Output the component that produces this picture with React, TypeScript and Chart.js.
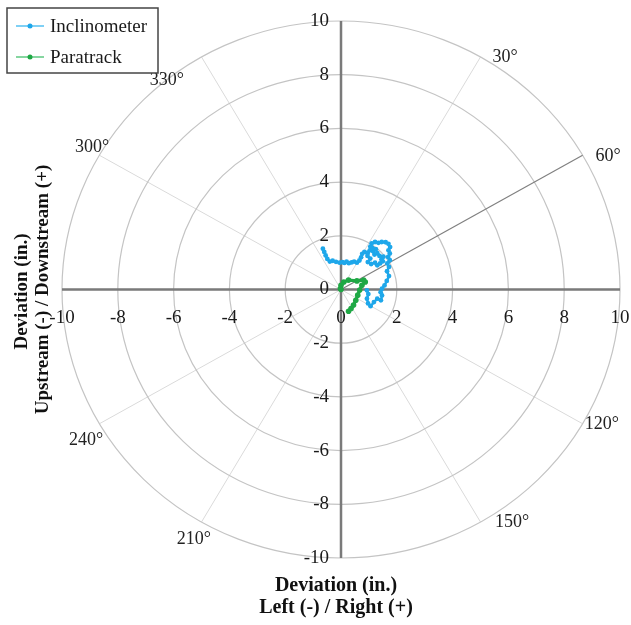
import React, { useEffect, useRef } from "react";
import { Chart, registerables } from "chart.js";

Chart.register(...registerables);

// ---- data ----
const inclinometerX = [-0.65, -0.6, -0.55, -0.49, -0.4, -0.3, -0.18, -0.05, 0.05, 0.12, 0.2, 0.28, 0.38, 0.47, 0.57, 0.66, 0.72, 0.76, 0.84, 0.95, 1.03, 0.95, 1.05, 0.96, 1.08, 1.22, 1.3, 1.4, 1.5, 1.45, 1.52, 1.38, 1.3, 1.2, 1.15, 1.25, 1.12, 1.05, 1.1, 1.22, 1.34, 1.46, 1.6, 1.7, 1.76, 1.7, 1.75, 1.69, 1.75, 1.66, 1.72, 1.65, 1.72, 1.64, 1.56, 1.47, 1.42, 1.47, 1.43, 1.3, 1.18, 1.06, 0.97, 0.93, 0.98, 0.93];
const inclinometerY = [1.52, 1.4, 1.27, 1.14, 1.04, 1.07, 1.03, 1.0, 1.02, 0.99, 1.04, 0.98, 1.01, 1.04, 1.0, 1.08, 1.2, 1.33, 1.4, 1.36, 1.46, 1.25, 1.15, 1.02, 0.95, 1.0, 0.9, 0.97, 1.05, 1.12, 1.22, 1.25, 1.35, 1.3, 1.42, 1.5, 1.55, 1.6, 1.72, 1.77, 1.74, 1.77, 1.76, 1.7, 1.58, 1.46, 1.34, 1.21, 1.09, 0.97, 0.84, 0.68, 0.5, 0.32, 0.15, 0.03, -0.1, -0.22, -0.4, -0.34, -0.47, -0.62, -0.52, -0.34, -0.17, -0.03];
const paratrackX = [0.27, 0.36, 0.45, 0.53, 0.6, 0.67, 0.75, 0.87, 0.81, 0.57, 0.27, 0.1, 0.0, -0.02, 0.0];
const paratrackY = [-0.81, -0.71, -0.58, -0.4, -0.21, -0.02, 0.16, 0.28, 0.35, 0.32, 0.35, 0.28, 0.16, 0.04, 0.0];

const seriesNames = ["Inclinometer", "Paratrack"];
const xTickValues = [-10, -8, -6, -4, -2, 0, 2, 4, 6, 8, 10];
const yTickValues = [-10, -8, -6, -4, -2, 0, 2, 4, 6, 8, 10];
const circleRadii = [2, 4, 6, 8, 10];
const spokeAngles = [0, 30, 60, 90, 120, 150, 180, 210, 240, 270, 300, 330];
const angleLabels = ["30°", "60°", "120°", "150°", "210°", "240°", "300°", "330°"];
const highlightAngle = 60;

// label placement (layout only), in data units
const angleLabelPos: Record<string, [number, number]> = {
  "30°": [5.88, 8.66],
  "60°": [9.57, 4.98],
  "120°": [9.35, -5.02],
  "150°": [6.13, -8.66],
  "210°": [-5.27, -9.29],
  "240°": [-9.14, -5.61],
  "300°": [-8.92, 5.28],
  "330°": [-6.24, 7.78],
};

const BLUE = "#1ea7ea";
const GREEN = "#1fa845";
const SERIF = "'Liberation Serif', 'Times New Roman', serif";

const polarPlugin = {
  id: "polarGrid",
  beforeDatasetsDraw(chart: any) {
    const { ctx, scales } = chart;
    const xs = scales.x;
    const ys = scales.y;
    const cx = xs.getPixelForValue(0);
    const cy = ys.getPixelForValue(0);
    ctx.save();
    // spokes
    ctx.strokeStyle = "#dadada";
    ctx.lineWidth = 1;
    spokeAngles.forEach((a) => {
      if (a === highlightAngle) return;
      const rad = (a * Math.PI) / 180;
      ctx.beginPath();
      ctx.moveTo(cx, cy);
      ctx.lineTo(xs.getPixelForValue(10 * Math.sin(rad)), ys.getPixelForValue(10 * Math.cos(rad)));
      ctx.stroke();
    });
    // circles
    ctx.strokeStyle = "#c4c4c4";
    ctx.lineWidth = 1.2;
    circleRadii.forEach((r) => {
      const rx = Math.abs(xs.getPixelForValue(r) - cx);
      const ry = Math.abs(ys.getPixelForValue(r) - cy);
      ctx.beginPath();
      ctx.ellipse(cx, cy, rx, ry, 0, 0, Math.PI * 2);
      ctx.stroke();
    });
    // highlighted spoke
    {
      const rad = (highlightAngle * Math.PI) / 180;
      ctx.strokeStyle = "#808080";
      ctx.lineWidth = 1.2;
      ctx.beginPath();
      ctx.moveTo(cx, cy);
      ctx.lineTo(xs.getPixelForValue(10 * Math.sin(rad)), ys.getPixelForValue(10 * Math.cos(rad)));
      ctx.stroke();
    }
    // axes
    ctx.strokeStyle = "#7a7a7a";
    ctx.lineWidth = 2.5;
    ctx.beginPath();
    ctx.moveTo(xs.getPixelForValue(-10), cy);
    ctx.lineTo(xs.getPixelForValue(10), cy);
    ctx.moveTo(cx, ys.getPixelForValue(10));
    ctx.lineTo(cx, ys.getPixelForValue(-10));
    ctx.stroke();

    // tick labels
    ctx.fillStyle = "#1a1a1a";
    ctx.font = `19px ${SERIF}`;
    ctx.textAlign = "center";
    ctx.textBaseline = "middle";
    xTickValues.forEach((v) => {
      ctx.fillText(String(v), xs.getPixelForValue(v), cy + 29);
    });
    ctx.textAlign = "right";
    yTickValues.forEach((v) => {
      ctx.fillText(String(v), cx - 12, ys.getPixelForValue(v));
    });

    // angle labels
    ctx.font = `18px ${SERIF}`;
    ctx.textAlign = "center";
    ctx.fillStyle = "#222";
    angleLabels.forEach((lab) => {
      const p = angleLabelPos[lab];
      ctx.fillText(lab, xs.getPixelForValue(p[0]), ys.getPixelForValue(p[1]));
    });

    // axis titles
    ctx.font = `bold 20px ${SERIF}`;
    ctx.fillStyle = "#111";
    ctx.textAlign = "center";
    ctx.fillText("Deviation (in.)", cx - 5, 586);
    ctx.fillText("Left (-) / Right (+)", cx - 5, 608);
    ctx.translate(0, cy);
    ctx.rotate(-Math.PI / 2);
    ctx.font = `bold 19px ${SERIF}`;
    ctx.fillText("Deviation (in.)", -2, 22);
    ctx.fillText("Upstream (-) / Downstream (+)", 0, 43);
    ctx.restore();
  },
  afterDraw(chart: any) {
    const { ctx } = chart;
    ctx.save();
    ctx.fillStyle = "#ffffff";
    ctx.fillRect(7, 8, 151, 65);
    ctx.strokeStyle = "#444";
    ctx.lineWidth = 1.5;
    ctx.strokeRect(7, 8, 151, 65);
    const items = chart.data.datasets;
    items.forEach((ds: any, i: number) => {
      const y = 26 + i * 31;
      ctx.strokeStyle = ds.legendLine;
      ctx.lineWidth = 2;
      ctx.beginPath();
      ctx.moveTo(16, y);
      ctx.lineTo(44, y);
      ctx.stroke();
      ctx.fillStyle = ds.borderColor;
      ctx.beginPath();
      ctx.arc(30, y, 2.5, 0, Math.PI * 2);
      ctx.fill();
      ctx.fillStyle = "#1a1a1a";
      ctx.font = `19px ${SERIF}`;
      ctx.textAlign = "left";
      ctx.textBaseline = "middle";
      ctx.fillText(ds.label, 50, y + 1);
    });
    ctx.restore();
  },
};

export default function App() {
  const ref = useRef<HTMLCanvasElement | null>(null);
  useEffect(() => {
    document.body.style.margin = "0";
    const canvas = ref.current;
    if (!canvas) return;
    const chart = new Chart(canvas, {
      type: "scatter",
      data: {
        datasets: [
          {
            label: seriesNames[0],
            data: inclinometerX.map((x, i) => ({ x, y: inclinometerY[i] })),
            showLine: true,
            borderColor: BLUE,
            backgroundColor: BLUE,
            borderWidth: 2.4,
            pointRadius: 2.4,
            pointBorderWidth: 0,
            tension: 0,
            legendLine: "#7fd0f5",
          } as any,
          {
            label: seriesNames[1],
            data: paratrackX.map((x, i) => ({ x, y: paratrackY[i] })),
            showLine: true,
            borderColor: GREEN,
            backgroundColor: GREEN,
            borderWidth: 3.2,
            pointRadius: 2.8,
            pointBorderWidth: 0,
            tension: 0,
            legendLine: "#86d6a0",
          } as any,
        ],
      },
      options: {
        animation: false,
        responsive: false,
        maintainAspectRatio: false,
        devicePixelRatio: 1,
        layout: { padding: { left: 62, right: 11, top: 21, bottom: 67 } },
        scales: {
          x: { type: "linear", min: -10, max: 10, display: false },
          y: { type: "linear", min: -10, max: 10, display: false },
        },
        plugins: { legend: { display: false }, tooltip: { enabled: false } },
      },
      plugins: [polarPlugin],
    });
    return () => chart.destroy();
  }, []);
  return (
    <div style={{ width: 631, height: 625, background: "#fff" }}>
      <canvas ref={ref} width={631} height={625} style={{ display: "block" }} />
    </div>
  );
}
